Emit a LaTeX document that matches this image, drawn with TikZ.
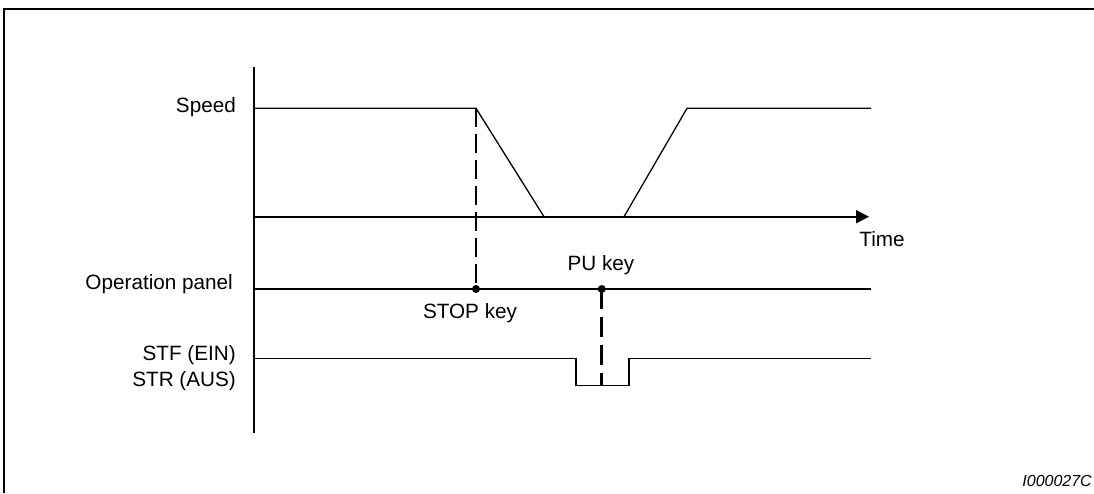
\documentclass[tikz,border=0pt]{standalone}
\usepackage{fontspec}
\setmainfont{Liberation Sans}
\usetikzlibrary{arrows.meta}

\tikzset{
  lbl/.style={font=\fontsize{20.7}{24}\selectfont, inner sep=0pt},
  sig/.style={line width=1.3pt},
  ax/.style={line width=2pt},
  keydot/.style={circle, fill, inner sep=0pt, minimum size=8pt},
  marker/.style={line width=1.3pt, dash pattern=on 19pt off 7pt},
  bigmarker/.style={line width=3pt, dash pattern=on 20pt off 8pt},
}

\begin{document}
\begin{tikzpicture}[x=1pt,y=-1pt]
    \useasboundingbox (0,0) rectangle (1094,493);

    % Frame
    \draw[line width=2.5pt] (4,493) -- (4,9) -- (1094,9);

    % Labels
    \node[lbl, anchor=east] (speed) at (236,107) {Speed};
    \node[lbl, anchor=east] (panel) at (233,284) {Operation panel};
    \node[lbl, anchor=east] (stf) at (236,355) {STF (EIN)};
    \node[lbl, anchor=east] (str) at (236,381) {STR (AUS)};
    \node[lbl] (time) at (882,239) {Time};
    \node[lbl] (stopkey) at (470,313) {STOP key};
    \node[lbl] (pukey) at (601,265) {PU key};
    \node[font=\fontsize{16}{18}\selectfont\itshape, inner sep=0pt, anchor=east] (fig) at (1092,481) {I000027C};

    % Vertical axis and time axis
    \coordinate (a0) at (253.5,66.7);
    \coordinate (a1) at (253.5,433);
    \draw[ax] (a0) -- (a1);
    \coordinate (t0) at (253.5,216.7);
    \coordinate (t1) at (869,216.7);
    \draw[ax, -{Triangle[length=13pt,width=13pt]}] (t0) -- (t1);

    % Speed
    \coordinate (v0) at (253.5,108.3);
    \coordinate (v1) at (476,108.3);
    \coordinate (v2) at (544,216.7);
    \coordinate (v3) at (624,216.7);
    \coordinate (v4) at (687,108.3);
    \coordinate (v5) at (871,108.3);
    \draw[sig] (v0) -- (v1) -- (v2);
    \draw[sig] (v3) -- (v4) -- (v5);

    % Operation panel
    \coordinate (p0) at (253.5,289);
    \coordinate (p1) at (871,289);
    \draw[sig] (p0) -- (p1);
    \node[keydot] (stop) at (476,289) {};
    \node[keydot] (pu) at (601.7,289) {};

    % STF / STR
    \coordinate (f0) at (253.5,358.3);
    \coordinate (f1) at (576,358.3);
    \coordinate (f2) at (576,385.5);
    \coordinate (f3) at (629,385.5);
    \coordinate (f4) at (629,358.3);
    \coordinate (f5) at (871,358.3);
    \coordinate (fm) at (601.7,385.5);
    \draw[sig] (f0) -- (f1) -- (f2) -- (f3) -- (f4) -- (f5);

    % Key markers
    \draw[marker] (v1) -- (stop.center);
    \draw[bigmarker] (pu.center) -- (fm);
\end{tikzpicture}
\end{document}
